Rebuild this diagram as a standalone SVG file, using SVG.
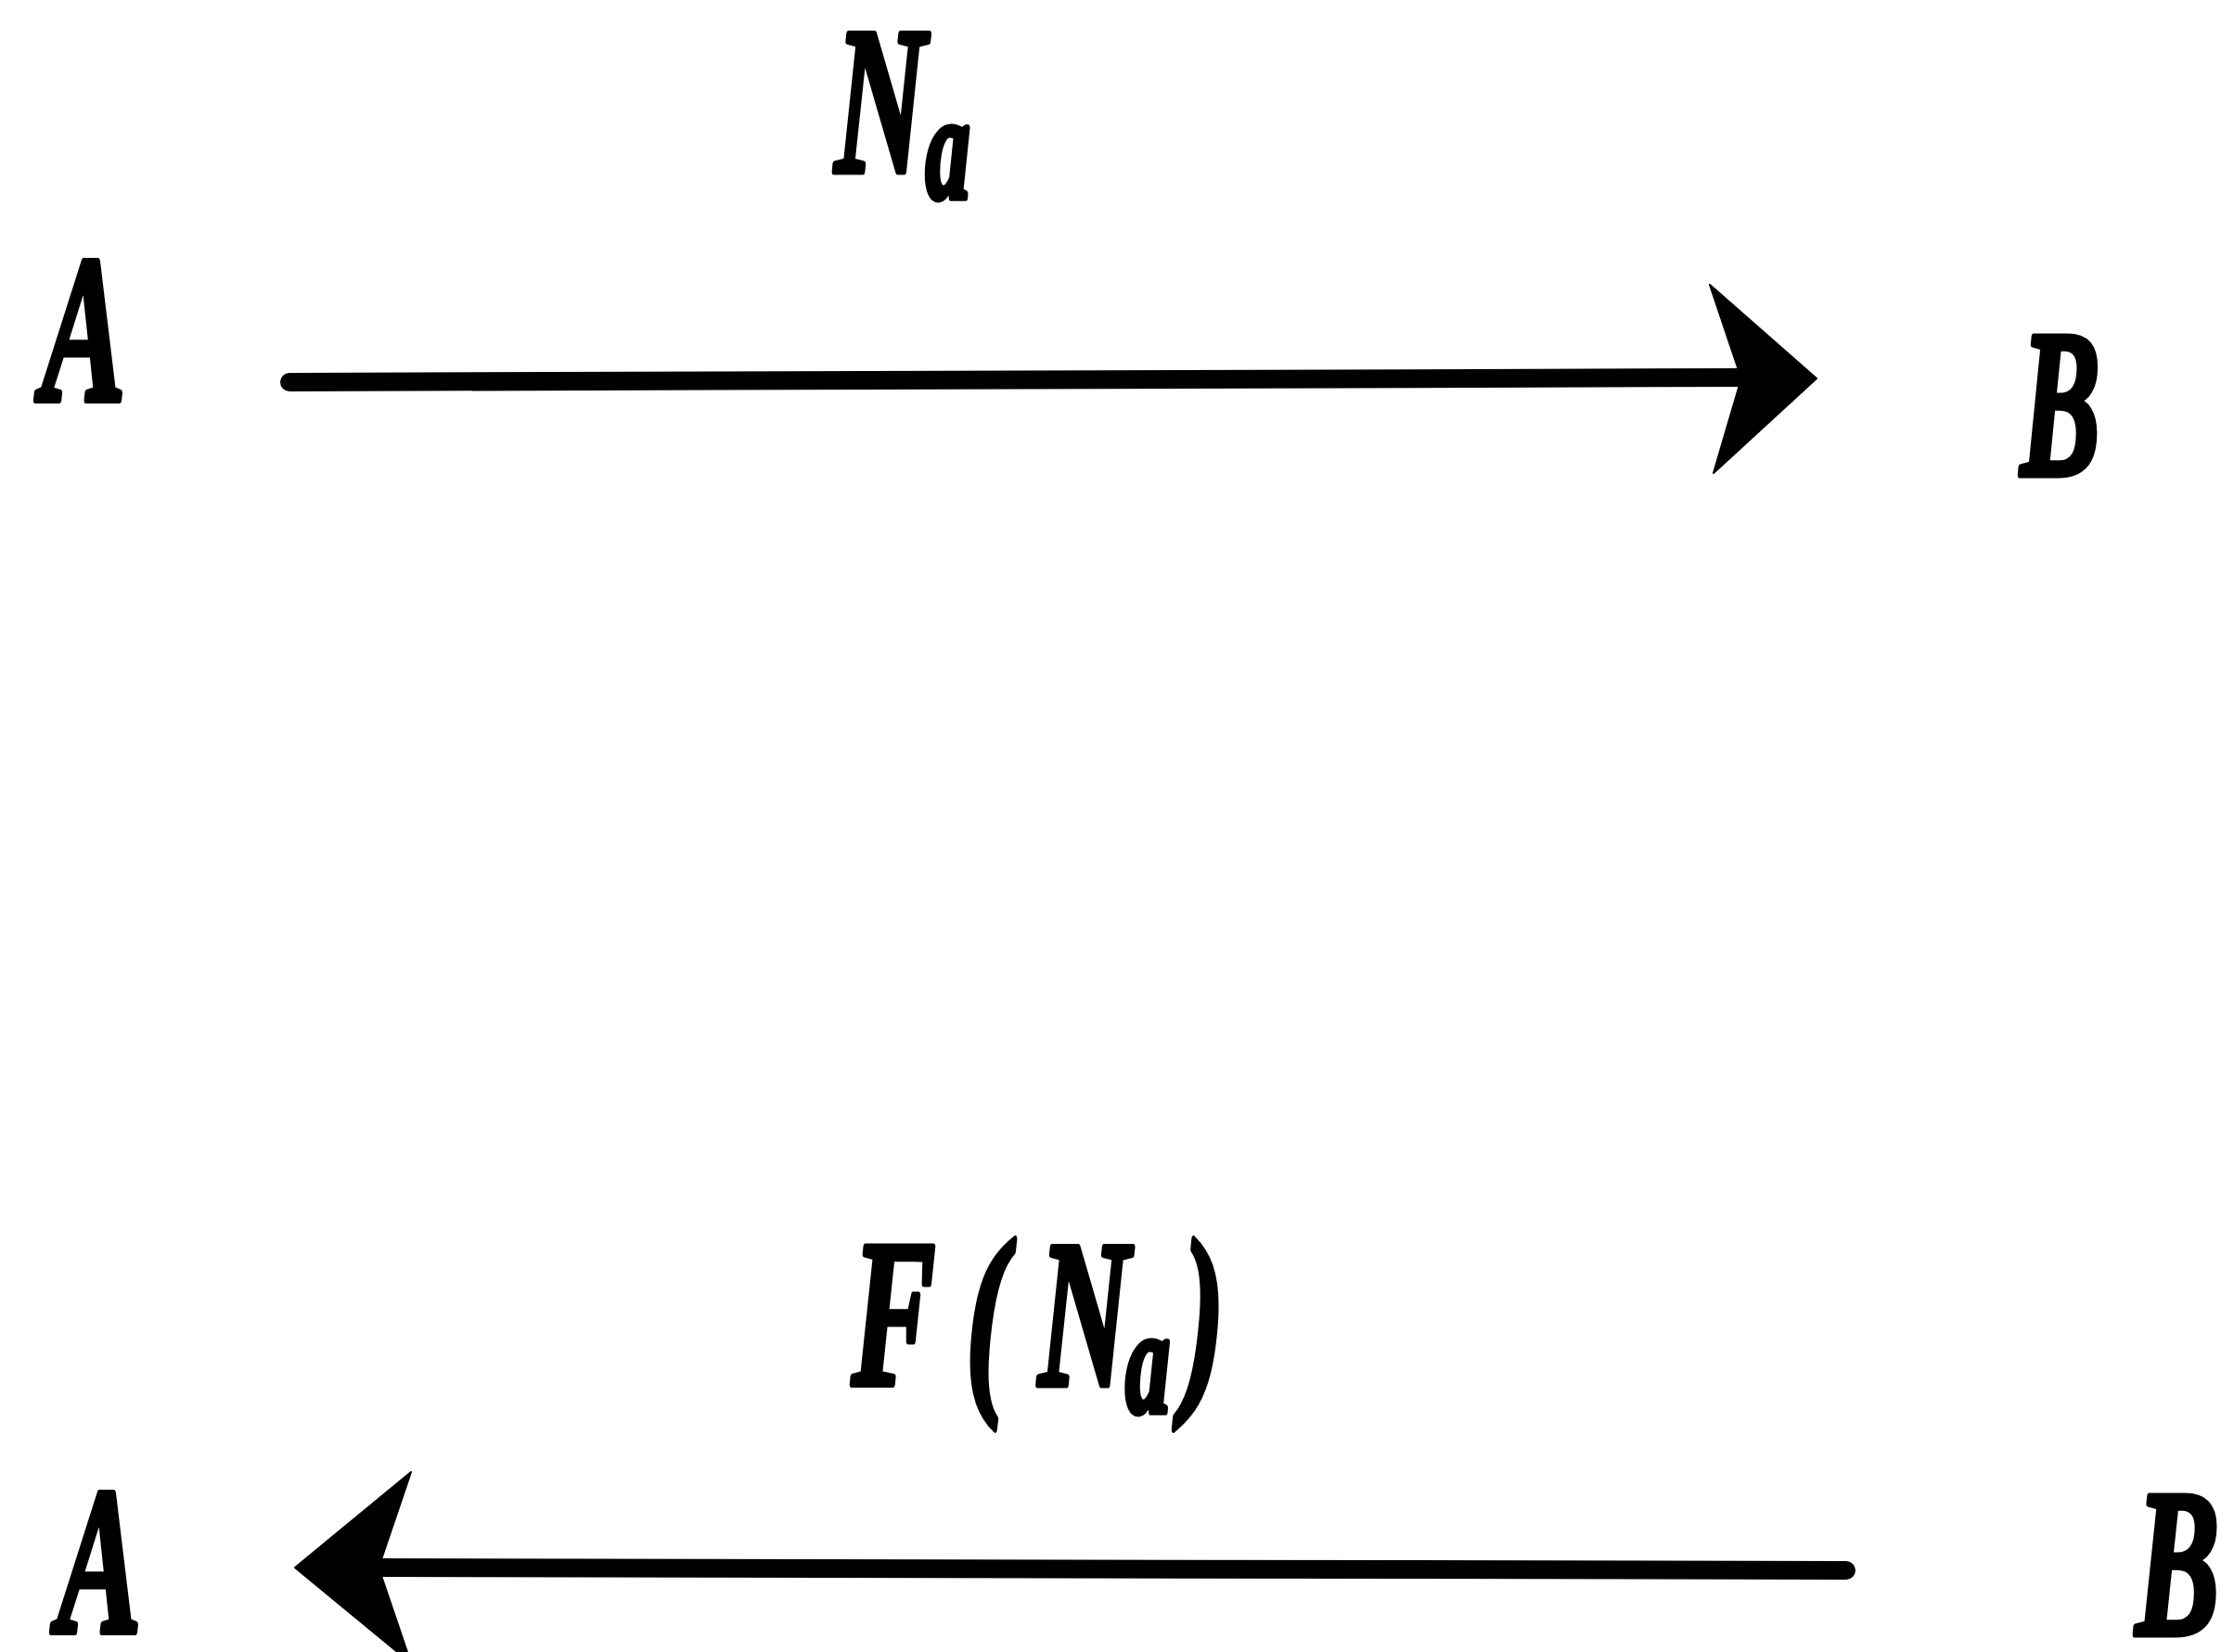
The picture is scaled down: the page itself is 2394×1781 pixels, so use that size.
<svg xmlns="http://www.w3.org/2000/svg" width="2394" height="1781" viewBox="0 0 2394 1781">
<style>
.t{font-family:"Liberation Serif","Times New Roman",serif;font-weight:bold;font-style:italic;font-size:226px;fill:#000;stroke:#000;stroke-width:7;stroke-linejoin:round}
.s{font-size:160px}
.ln{stroke:#000;stroke-width:20;stroke-linecap:round;fill:none}
.ah{fill:#000;stroke:#000;stroke-width:2;stroke-linejoin:round}
</style>
<rect width="2394" height="1781" fill="#fff"/>
<g id="nodeA1"><text class="t" transform="translate(45,432) scale(0.6,1)">A</text></g>
<g id="nodeB1"><text class="t" transform="translate(2178,512) scale(0.57,1)">B</text></g>
<g id="nodeA2"><text class="t" transform="translate(62,1760) scale(0.6,1)">A</text></g>
<g id="nodeB2"><text class="t" transform="translate(2302,1762) scale(0.6,1)">B</text></g>
<g id="connectors">
<g id="edge1">
<line class="ln" x1="312" y1="412" x2="1880" y2="407"/>
<path class="ah" d="M1843,307 L1958,408 L1847,510 L1877,408 Z"/>
<g id="label1"><text class="t" transform="translate(900,185) scale(0.6,1)">N<tspan class="s" x="163" y="28">a</tspan></text></g>
</g>
<g id="edge2">
<line class="ln" x1="405" y1="1690" x2="1990" y2="1693"/>
<path class="ah" d="M318,1690 L443,1587 L408,1690 L443,1793 Z"/>
<g id="label2"><text class="t" transform="translate(918,1493) scale(0.6,1)">F<tspan x="205">(</tspan><tspan x="336">N</tspan><tspan class="s" x="492" y="29">a</tspan><tspan x="595" y="0">)</tspan></text></g>
</g>
</g>
</svg>
